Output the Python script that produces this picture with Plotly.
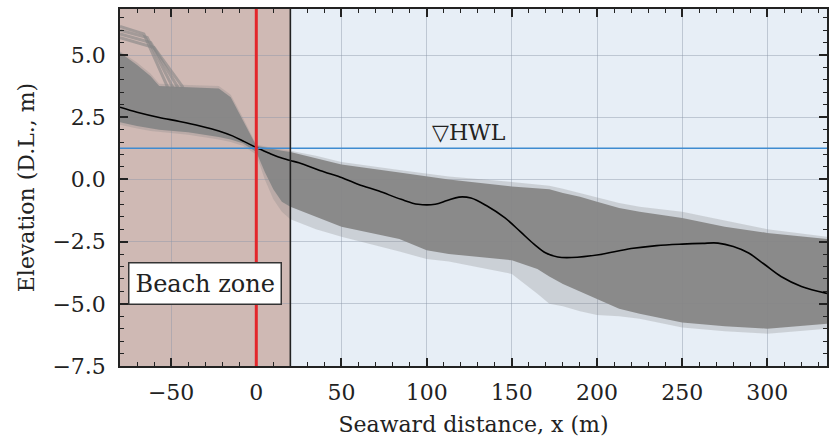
import plotly.graph_objects as go

# ---------------- data ----------------
HWL = 1.25
SHORE_X = 0
BEACH_EDGE_X = 20
X_MIN, X_MAX = -80, 335
Y_MIN, Y_MAX = -7.5, 6.85

# envelope of the profile ensemble
env_x = [-80, -70, -62, -57, -40, -22, -15, -8, 0, 5, 10, 15, 20, 35, 50, 84, 100,
         113, 150, 165, 172, 180, 190, 200, 213, 225, 250, 275, 300, 335]
env_upper = [5.1, 4.6, 4.15, 3.75, 3.7, 3.65, 3.3, 2.4, 1.35, 1.28, 1.2, 1.15, 1.1,
             0.85, 0.6, 0.28, 0.12, 0.0, -0.28, -0.35, -0.4, -0.55, -0.7, -0.9,
             -1.15, -1.3, -1.55, -1.9, -2.15, -2.4]
env_lower = [2.3, 2.15, 2.05, 2.0, 1.9, 1.7, 1.6, 1.45, 1.1, 0.3, -0.4, -0.9, -1.1,
             -1.5, -1.9, -2.4, -2.85, -3.0, -3.25, -3.6, -3.9, -4.2, -4.5, -4.8,
             -5.2, -5.4, -5.75, -5.9, -6.0, -5.8]
# faint outer envelope (sparse profiles)
out_upper = [5.15, 4.7, 4.25, 3.85, 3.8, 3.75, 3.4, 2.5, 1.4, 1.32, 1.25, 1.2, 1.15,
             0.95, 0.7, 0.38, 0.22, 0.12, -0.1, -0.2, -0.25, -0.38, -0.55, -0.7,
             -0.95, -1.1, -1.3, -1.65, -2.0, -2.3]
out_lower = [2.2, 2.05, 1.95, 1.9, 1.8, 1.6, 1.5, 1.35, 1.0, 0.0, -0.8, -1.3, -1.6,
             -2.0, -2.3, -2.9, -3.2, -3.3, -3.8, -4.6, -5.0, -5.1, -5.3, -5.45,
             -5.5, -5.6, -5.95, -6.1, -6.2, -6.0]

# a few high upper-beach profiles (top-left)
hi_x = [-80, -66, -52]
hi_1 = [6.15, 5.85, 3.7]
hi_2_x = [-80, -64, -49]
hi_2 = [6.0, 5.7, 3.7]
hi_3_x = [-80, -62, -46]
hi_3 = [5.85, 5.5, 3.7]
hi_4_x = [-80, -60, -43]
hi_4 = [5.7, 5.3, 3.7]

# mean profile
mean_x = [-80, -70, -57, -45, -33, -22, -14, -7, 0, 7, 13, 20, 25, 40, 48, 60, 72, 85,
          95, 105, 112, 119, 126, 135, 146, 155, 163, 170, 177, 185, 201, 220, 235,
          250, 262, 271, 280, 289, 298, 308, 320, 335]
mean_y = [2.9, 2.7, 2.49, 2.33, 2.15, 1.95, 1.75, 1.52, 1.28, 1.07, 0.9, 0.76, 0.67,
          0.3, 0.13, -0.2, -0.47, -0.8, -1.0, -1.0, -0.85, -0.71, -0.75, -1.05,
          -1.55, -2.1, -2.6, -2.96, -3.12, -3.14, -3.03, -2.78, -2.66, -2.6, -2.57,
          -2.56, -2.7, -2.96, -3.4, -3.9, -4.3, -4.58]

X_TICKS = [-50, 0, 50, 100, 150, 200, 250, 300]
Y_TICKS = [-7.5, -5.0, -2.5, 0.0, 2.5, 5.0]

# ---------------- figure ----------------
FONT = "DejaVu Serif, Liberation Serif, serif"
GREY = "rgba(134,134,134,0.95)"

fig = go.Figure()

fig.add_trace(go.Scatter(
    x=env_x + env_x[::-1], y=out_upper + out_lower[::-1],
    fill="toself", fillcolor="rgba(134,134,134,0.28)", line=dict(width=0),
    mode="lines", hoverinfo="skip", showlegend=False))
fig.add_trace(go.Scatter(
    x=env_x + env_x[::-1], y=env_upper + env_lower[::-1],
    fill="toself", fillcolor=GREY, line=dict(width=0),
    mode="lines", hoverinfo="skip", showlegend=False))
for xs, ys in [(hi_x, hi_1), (hi_2_x, hi_2), (hi_3_x, hi_3), (hi_4_x, hi_4)]:
    fig.add_trace(go.Scatter(x=xs, y=ys, mode="lines",
                             line=dict(color="rgba(134,134,134,0.6)", width=3),
                             hoverinfo="skip", showlegend=False))
fig.add_trace(go.Scatter(x=mean_x, y=mean_y, mode="lines",
                         line=dict(color="black", width=1.6, shape="spline"),
                         showlegend=False))

shapes = [
    dict(type="rect", xref="x", yref="paper", x0=X_MIN, x1=BEACH_EDGE_X, y0=0, y1=1,
         fillcolor="#cfb9b4", line=dict(width=0), layer="below"),
    dict(type="rect", xref="x", yref="paper", x0=BEACH_EDGE_X, x1=X_MAX, y0=0, y1=1,
         fillcolor="#e7eef6", line=dict(width=0), layer="below"),
    dict(type="line", xref="paper", yref="y", x0=0, x1=1, y0=HWL, y1=HWL,
         line=dict(color="#3f8bd0", width=1.6), layer="above"),
    dict(type="line", xref="x", yref="paper", x0=SHORE_X, x1=SHORE_X, y0=0, y1=1,
         line=dict(color="#e3262b", width=3), layer="above"),
    dict(type="line", xref="x", yref="paper", x0=BEACH_EDGE_X, x1=BEACH_EDGE_X, y0=0, y1=1,
         line=dict(color="#222222", width=1.6), layer="above"),
]

annotations = [
    dict(x=102, y=HWL + 0.05, xref="x", yref="y", text="▽HWL", showarrow=False,
         xanchor="left", yanchor="bottom", font=dict(family=FONT, size=22, color="#222")),
    dict(x=-30, y=-4.2, xref="x", yref="y", text="Beach zone", showarrow=False,
         xanchor="center", yanchor="middle", bgcolor="white", bordercolor="#333",
         borderwidth=1.5, borderpad=6, font=dict(family=FONT, size=24, color="#222")),
]

axis_common = dict(
    showline=True, linecolor="#222", linewidth=1.6, mirror="allticks",
    ticks="inside", ticklen=8, tickwidth=1.6, tickcolor="#222",
    showgrid=True, gridcolor="rgba(140,150,168,0.45)", gridwidth=1,
    zeroline=False, tickfont=dict(family=FONT, size=22, color="#222"),
)

fig.update_layout(
    width=830, height=439,
    margin=dict(l=120, r=1, t=9, b=73),
    paper_bgcolor="white", plot_bgcolor="white",
    font=dict(family=FONT, size=22, color="#222"),
    shapes=shapes, annotations=annotations,
    xaxis=dict(range=[X_MIN, X_MAX], tickvals=X_TICKS,
               minor=dict(dtick=10, ticks="inside", ticklen=4, tickwidth=1.3,
                          tickcolor="#222", showgrid=False),
               title=dict(text="Seaward distance, x (m)", standoff=12,
                          font=dict(family=FONT, size=22, color="#222")),
               ticklabelstandoff=6, **axis_common),
    yaxis=dict(range=[Y_MIN, Y_MAX], tickvals=Y_TICKS, tickformat=".1f",
               minor=dict(dtick=0.5, tick0=0, ticks="inside", ticklen=4, tickwidth=1.3,
                          tickcolor="#222", showgrid=False),
               title=dict(text="Elevation (D.L., m)", standoff=12,
                          font=dict(family=FONT, size=22, color="#222")),
               ticklabelstandoff=8, **axis_common),
)

fig.write_html("out.html")
